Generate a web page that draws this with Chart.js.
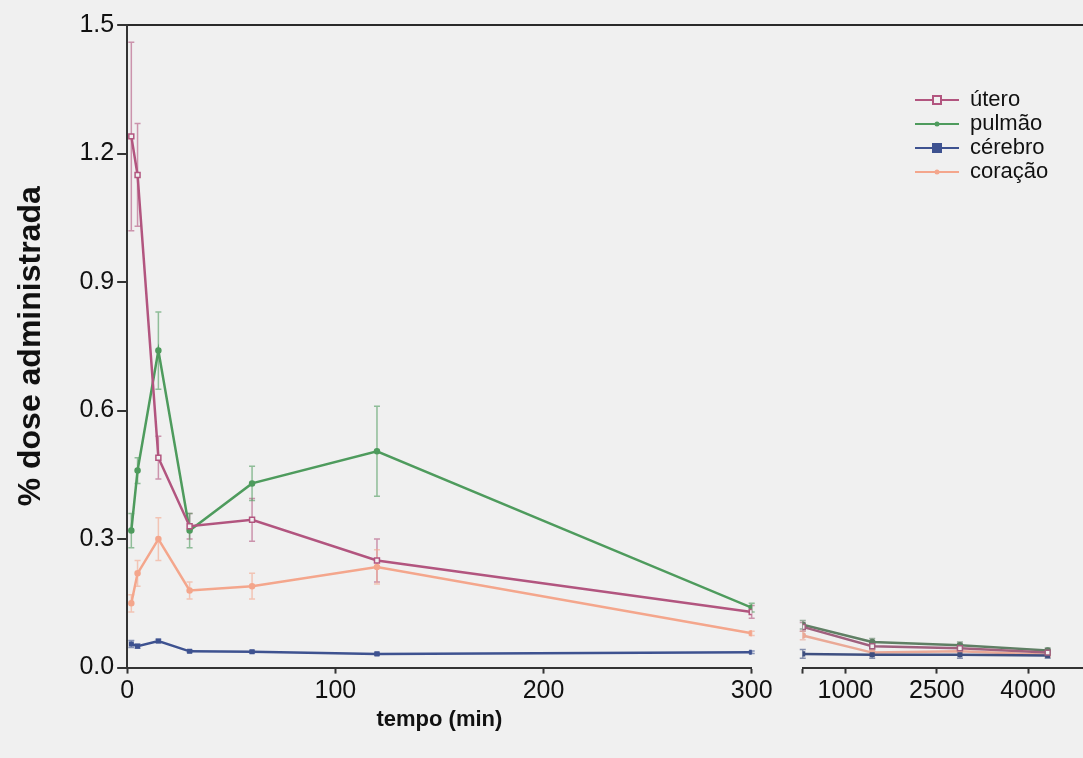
<!DOCTYPE html>
<html lang="pt">
<head>
<meta charset="utf-8">
<title>% dose administrada</title>
<script src="https://cdn.jsdelivr.net/npm/chart.js@4.4.1/dist/chart.umd.min.js"></script>
<style>
  html, body { margin: 0; padding: 0; background: #f0f0f0; }
  #wrap { width: 1083px; height: 758px; }
</style>
</head>
<body>
<div id="wrap"><canvas id="chart" width="1083" height="758"></canvas></div>
<script>
// tempos (min) - painel 0-300 e painel 300-4900
const temposA = [2, 5, 15, 30, 60, 120, 300];
const temposB = [300, 1440, 2880, 4320];

const xTicksA = [0, 100, 200, 300];
const xTicksB = [300, 1000, 2500, 4000];
const yTicks = [0, 0.3, 0.6, 0.9, 1.2, 1.5];

// % dose administrada (média e erro)
const uteroA   = [1.24, 1.15, 0.49, 0.33, 0.345, 0.25, 0.13];
const uteroErrA = [0.22, 0.12, 0.05, 0.03, 0.05, 0.05, 0.015];
const pulmaoA  = [0.32, 0.46, 0.74, 0.32, 0.43, 0.505, 0.14];
const pulmaoErrA = [0.04, 0.03, 0.09, 0.04, 0.04, 0.105, 0.01];
const cerebroA = [0.055, 0.05, 0.062, 0.038, 0.037, 0.032, 0.036];
const cerebroErrA = [0.008, 0.005, 0.004, 0.003, 0.003, 0.003, 0.003];
const coracaoA = [0.15, 0.22, 0.30, 0.18, 0.19, 0.235, 0.08];
const coracaoErrA = [0.02, 0.03, 0.05, 0.02, 0.03, 0.04, 0.005];

const uteroB   = [0.095, 0.05, 0.045, 0.035];
const pulmaoB  = [0.10, 0.06, 0.052, 0.04];
const cerebroB = [0.032, 0.03, 0.03, 0.028];
const coracaoB = [0.075, 0.035, 0.038, 0.03];
const errB     = [0.01, 0.008, 0.008, 0.006];

const labels = ['útero', 'pulmão', 'cérebro', 'coração'];
const colors = ['#b2557f', '#4e9b5d', '#3e5290', '#f4a68c'];
const colorsB = ['#a0607e', '#5f7f64', '#3e4f80', '#eaa996'];
const styles = ['rect', 'circle', 'rect', 'circle'];

Chart.defaults.font.family = "'Liberation Sans', Arial, sans-serif";
Chart.defaults.color = '#111';

function toPoints(xs, ys) {
    return xs.map((x, i) => ({ x: x, y: ys[i] }));
}

// icone da legenda: linha com marcador no meio
function legendIcon(color, style) {
    const c = document.createElement('canvas');
    c.width = 44; c.height = 12;
    const g = c.getContext('2d');
    g.strokeStyle = color; g.lineWidth = 2;
    g.beginPath(); g.moveTo(0, 6); g.lineTo(44, 6); g.stroke();
    if (style === 'rect') {
        g.fillStyle = color === colors[0] ? '#f0f0f0' : color;
        g.fillRect(18, 2, 8, 8); g.strokeRect(18, 2, 8, 8);
    } else {
        g.fillStyle = color;
        g.beginPath(); g.arc(22, 6, 2.5, 0, Math.PI * 2); g.fill();
    }
    return c;
}
const legendIcons = colors.map((c, i) => legendIcon(c, styles[i]));

function makeSet(i, xs, ys, errs, axis) {
    const col = axis === 'x2' ? colorsB[i] : colors[i];
    return {
        label: labels[i],
        data: toPoints(xs, ys),
        errBars: errs,
        xAxisID: axis,
        borderColor: col,
        backgroundColor: i === 0 ? '#f0f0f0' : col,
        pointBorderColor: col,
        pointStyle: styles[i],
        pointRadius: i === 0 ? 3.5 : 2.5,
        pointBorderWidth: 1.5,
        borderWidth: 2.5,
        tension: 0,
        fill: false
    };
}

const datasets = [
    makeSet(0, temposA, uteroA, uteroErrA, 'x'),
    makeSet(1, temposA, pulmaoA, pulmaoErrA, 'x'),
    makeSet(2, temposA, cerebroA, cerebroErrA, 'x'),
    makeSet(3, temposA, coracaoA, coracaoErrA, 'x'),
    makeSet(0, temposB, uteroB, errB, 'x2'),
    makeSet(1, temposB, pulmaoB, errB, 'x2'),
    makeSet(2, temposB, cerebroB, errB, 'x2'),
    makeSet(3, temposB, coracaoB, errB, 'x2')
];

// barras de erro desenhadas pelas escalas
const errorBars = {
    id: 'errorBars',
    beforeDatasetsDraw(chart) {
        const ctx = chart.ctx;
        const y = chart.scales.y;
        chart.data.datasets.forEach((ds, di) => {
            const meta = chart.getDatasetMeta(di);
            if (!ds.errBars) return;
            ctx.save();
            ctx.strokeStyle = ds.borderColor;
            ctx.globalAlpha = 0.6;
            ctx.lineWidth = 1.5;
            meta.data.forEach((pt, i) => {
                const v = ds.data[i].y, e = ds.errBars[i];
                const top = y.getPixelForValue(v + e);
                const bot = y.getPixelForValue(v - e);
                ctx.beginPath();
                ctx.moveTo(pt.x, top); ctx.lineTo(pt.x, bot);
                ctx.moveTo(pt.x - 3, top); ctx.lineTo(pt.x + 3, top);
                ctx.moveTo(pt.x - 3, bot); ctx.lineTo(pt.x + 3, bot);
                ctx.stroke();
            });
            ctx.restore();
        });
    }
};

// legenda dentro da área do gráfico, canto superior direito
const legendPos = {
    id: 'legendPos',
    afterLayout(chart) {
        const lg = chart.legend;
        lg.left = chart.chartArea.right - 170;
        lg.top = chart.chartArea.top + 62;
        lg.right = lg.left + lg.width;
        lg.bottom = lg.top + lg.height;
    }
};

const tickFont = { size: 25 };

new Chart(document.getElementById('chart'), {
    type: 'line',
    data: { datasets: datasets },
    plugins: [errorBars, legendPos],
    options: {
        responsive: false,
        animation: false,
        devicePixelRatio: 1,
        layout: { autoPadding: false, padding: { top: 25, right: 0, bottom: 14, left: 0 } },
        plugins: {
            tooltip: { enabled: false },
            legend: {
                position: 'chartArea',
                align: 'start',
                labels: {
                    font: { size: 22 },
                    color: '#111',
                    usePointStyle: true,
                    pointStyleWidth: 44,
                    boxHeight: 12,
                    padding: 2,
                    filter: item => item.datasetIndex < 4,
                    generateLabels(chart) {
                        const items = Chart.defaults.plugins.legend.labels.generateLabels(chart);
                        return items.map(it => Object.assign(it, { pointStyle: legendIcons[it.datasetIndex % 4] }));
                    }
                }
            }
        },
        scales: {
            x: {
                type: 'linear',
                position: 'bottom',
                stack: 'tempo',
                stackWeight: 624,
                min: 0,
                max: 300,
                afterBuildTicks: s => { s.ticks = xTicksA.map(v => ({ value: v })); },
                afterFit: s => { s.paddingRight = 0; s.paddingLeft = 0; },
                ticks: { font: tickFont, color: '#111', padding: 3, maxRotation: 0, autoSkip: false, callback: v => String(v) },
                grid: { drawOnChartArea: false, tickLength: 6, tickWidth: 2, tickColor: '#333' },
                border: { color: '#333', width: 2 },
                title: {
                    display: true,
                    text: 'tempo (min)',
                    font: { size: 22, weight: 'bold' },
                    color: '#111',
                    padding: { top: -3, bottom: 11 }
                }
            },
            xgap: {
                type: 'linear',
                position: 'bottom',
                stack: 'tempo',
                stackWeight: 51,
                min: 0,
                max: 1,
                ticks: { display: false },
                grid: { display: false },
                border: { display: false }
            },
            x2: {
                type: 'linear',
                position: 'bottom',
                stack: 'tempo',
                stackWeight: 280,
                min: 300,
                max: 4900,
                afterBuildTicks: s => { s.ticks = xTicksB.map(v => ({ value: v })); },
                afterFit: s => { s.paddingRight = 0; s.paddingLeft = 0; },
                ticks: { font: tickFont, color: '#111', padding: 3, maxRotation: 0, autoSkip: false, callback: v => v === 300 ? '' : String(v) },
                grid: { drawOnChartArea: false, tickLength: 6, tickWidth: 2, tickColor: '#333' },
                border: { color: '#333', width: 2 }
            },
            y: {
                type: 'linear',
                min: 0,
                max: 1.5,
                afterBuildTicks: s => { s.ticks = yTicks.map(v => ({ value: v })); },
                ticks: { font: tickFont, color: '#111', padding: 3, callback: v => v.toFixed(1) },
                grid: {
                    color: c => (c.tick && Math.abs(c.tick.value - 1.5) < 1e-6) ? '#2a2a2a' : 'rgba(0,0,0,0)',
                    lineWidth: 2,
                    tickColor: '#333',
                    tickLength: 10,
                    tickWidth: 2
                },
                border: { color: '#333', width: 2 },
                title: {
                    display: true,
                    text: '% dose administrada',
                    font: { size: 32, weight: 'bold' },
                    color: '#111',
                    padding: { top: 12, bottom: 26 }
                }
            }
        }
    }
});
</script>
</body>
</html>
